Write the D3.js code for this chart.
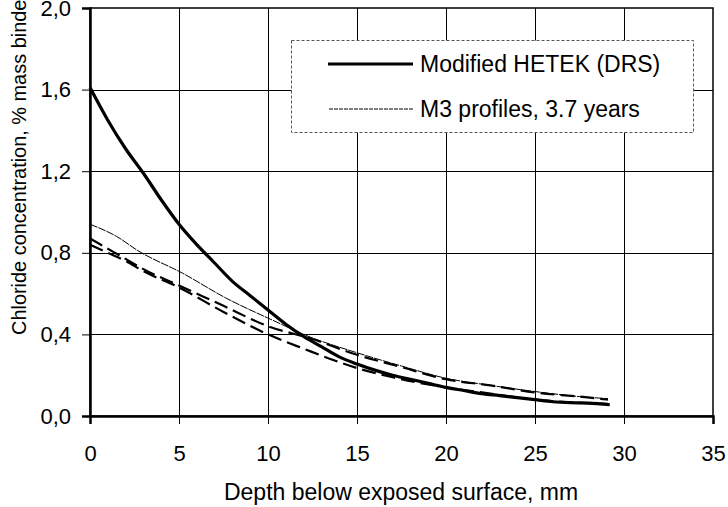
<!DOCTYPE html>
<html>
<head>
<meta charset="utf-8">
<script src="https://d3js.org/d3.v7.min.js"></script>
<style>
  body { margin: 0; background: #fff; }
  text { font-family: "Liberation Sans", Arial, sans-serif; fill: #000; }
</style>
</head>
<body>
<svg id="chart"></svg>
<script>
// depth (mm) and chloride concentration (% mass binder)
var hetekDepth = [0, 1, 2, 3, 4, 5, 6, 7, 8, 9, 10, 11, 12, 13, 14, 15, 16, 17, 18, 19, 20, 21, 22, 23, 24, 25, 26, 27, 28, 29.2]
var hetekConc  = [1.61, 1.45, 1.31, 1.19, 1.06, 0.94, 0.84, 0.75, 0.66, 0.59, 0.52, 0.45, 0.39, 0.34, 0.29, 0.255, 0.225, 0.2, 0.18, 0.16, 0.14, 0.125, 0.11, 0.1, 0.09, 0.08, 0.07, 0.065, 0.063, 0.055]

var m3aDepth = [0, 1.5, 2.7, 5.2, 7.6, 10.5, 12, 15, 17.5, 20, 22.5, 25, 27.5, 29.1]
var m3aConc  = [0.94, 0.88, 0.81, 0.70, 0.58, 0.46, 0.40, 0.31, 0.245, 0.185, 0.15, 0.12, 0.095, 0.085]

var m3bDepth = [0, 1, 2, 3, 5, 7.5, 10, 12.4, 15, 17.5, 20, 22.5, 25, 27.5, 29.1]
var m3bConc  = [0.87, 0.82, 0.77, 0.72, 0.64, 0.54, 0.44, 0.38, 0.30, 0.24, 0.18, 0.15, 0.115, 0.095, 0.08]

var m3cDepth = [0, 1, 2, 3, 5, 7.5, 10, 12, 15, 17, 20, 22.5, 25, 27.5, 29.1]
var m3cConc  = [0.84, 0.80, 0.76, 0.71, 0.63, 0.51, 0.40, 0.33, 0.235, 0.19, 0.14, 0.11, 0.08, 0.065, 0.06]

var xTicks = [0, 5, 10, 15, 20, 25, 30, 35]
var yTicks = [0, 0.4, 0.8, 1.2, 1.6, 2.0]
var legendNames = ["Modified HETEK (DRS)", "M3 profiles, 3.7 years"]

var width = 728, height = 507
// plot box (named so they don't clash with window.top etc.)
var pLeft = 90, pRight = 713, pTop = 8, pBottom = 416

var svg = d3.select('#chart').attr('width', width).attr('height', height)

var x = d3.scaleLinear().domain([0, 35]).range([pLeft, pRight])
var y = d3.scaleLinear().domain([0, 2]).range([pBottom, pTop])

// grid
svg.append('g').selectAll('line').data(xTicks.slice(1, -1)).join('line')
  .attr('x1', d => Math.round(x(d)) + 0.5).attr('x2', d => Math.round(x(d)) + 0.5)
  .attr('y1', pTop).attr('y2', pBottom)
  .attr('stroke', '#000').attr('stroke-width', 1)
svg.append('g').selectAll('line').data(yTicks.slice(1, -1)).join('line')
  .attr('x1', pLeft).attr('x2', pRight)
  .attr('y1', d => Math.round(y(d)) + 0.5).attr('y2', d => Math.round(y(d)) + 0.5)
  .attr('stroke', '#000').attr('stroke-width', 1)

// frame
svg.append('rect').attr('x', pLeft).attr('y', pTop)
  .attr('width', pRight - pLeft).attr('height', pBottom - pTop)
  .attr('fill', 'none').attr('stroke', '#000').attr('stroke-width', 1.5)

// axes
var xAxis = d3.axisBottom(x).tickValues(xTicks).tickSize(8).tickPadding(21).tickFormat(d3.format('d'))
var gx = svg.append('g').attr('transform', 'translate(0,' + pBottom + ')').call(xAxis)
gx.select('.domain').attr('stroke-width', 2.5)
gx.selectAll('.tick line').attr('stroke-width', 1)
gx.selectAll('text').attr('font-size', 22).attr('font-family', '"Liberation Sans", Arial, sans-serif')

var yAxis = d3.axisLeft(y).tickValues(yTicks).tickSize(8).tickPadding(11)
  .tickFormat(d => d3.format('.1f')(d).replace('.', ','))
var gy = svg.append('g').attr('transform', 'translate(' + pLeft + ',0)').call(yAxis)
gy.select('.domain').attr('stroke-width', 2.5)
gy.selectAll('.tick line').attr('stroke-width', 1)
gy.selectAll('text').attr('font-size', 22).attr('font-family', '"Liberation Sans", Arial, sans-serif')

// axis titles
svg.append('text')
  .attr('x', 401).attr('y', 500)
  .attr('text-anchor', 'middle').attr('font-size', 23)
  .text('Depth below exposed surface, mm')
// the reference crops this title at the top edge, same here
svg.append('text')
  .attr('transform', 'translate(26,335) rotate(-90)')
  .attr('font-size', 21)
  .attr('textLength', 342).attr('lengthAdjust', 'spacingAndGlyphs')
  .text('Chloride concentration, % mass binder')

// legend
var lg = svg.append('g')
lg.append('rect').attr('x', 291.5).attr('y', 40.5).attr('width', 402).attr('height', 92)
  .attr('fill', '#fff').attr('stroke', '#555').attr('stroke-width', 1).attr('stroke-dasharray', '3,2')
lg.append('line').attr('x1', 328).attr('x2', 413).attr('y1', 64).attr('y2', 64)
  .attr('stroke', '#000').attr('stroke-width', 3)
lg.append('line').attr('x1', 329).attr('x2', 413).attr('y1', 109).attr('y2', 109)
  .attr('stroke', '#000').attr('stroke-width', 1).attr('stroke-dasharray', '4,1')
lg.selectAll('text').data(legendNames).join('text')
  .attr('x', 420).attr('y', (d, i) => 72 + i * 45)
  .attr('font-size', 23)
  .text(d => d)

// curves
var line = d3.line().x(d => x(d[0])).y(d => y(d[1])).curve(d3.curveMonotoneX)
function series(depth, conc) { return depth.map((d, i) => [d, conc[i]]) }

svg.append('path').datum(series(m3cDepth, m3cConc)).attr('d', line)
  .attr('fill', 'none').attr('stroke', '#000').attr('stroke-width', 2.2).attr('stroke-dasharray', '14,6')
svg.append('path').datum(series(m3bDepth, m3bConc)).attr('d', line)
  .attr('fill', 'none').attr('stroke', '#000').attr('stroke-width', 2.2).attr('stroke-dasharray', '14,6')
svg.append('path').datum(series(m3aDepth, m3aConc)).attr('d', line)
  .attr('fill', 'none').attr('stroke', '#000').attr('stroke-width', 1).attr('stroke-dasharray', '8,1')
svg.append('path').datum(series(hetekDepth, hetekConc)).attr('d', line)
  .attr('fill', 'none').attr('stroke', '#000').attr('stroke-width', 3.2)
</script>
</body>
</html>
